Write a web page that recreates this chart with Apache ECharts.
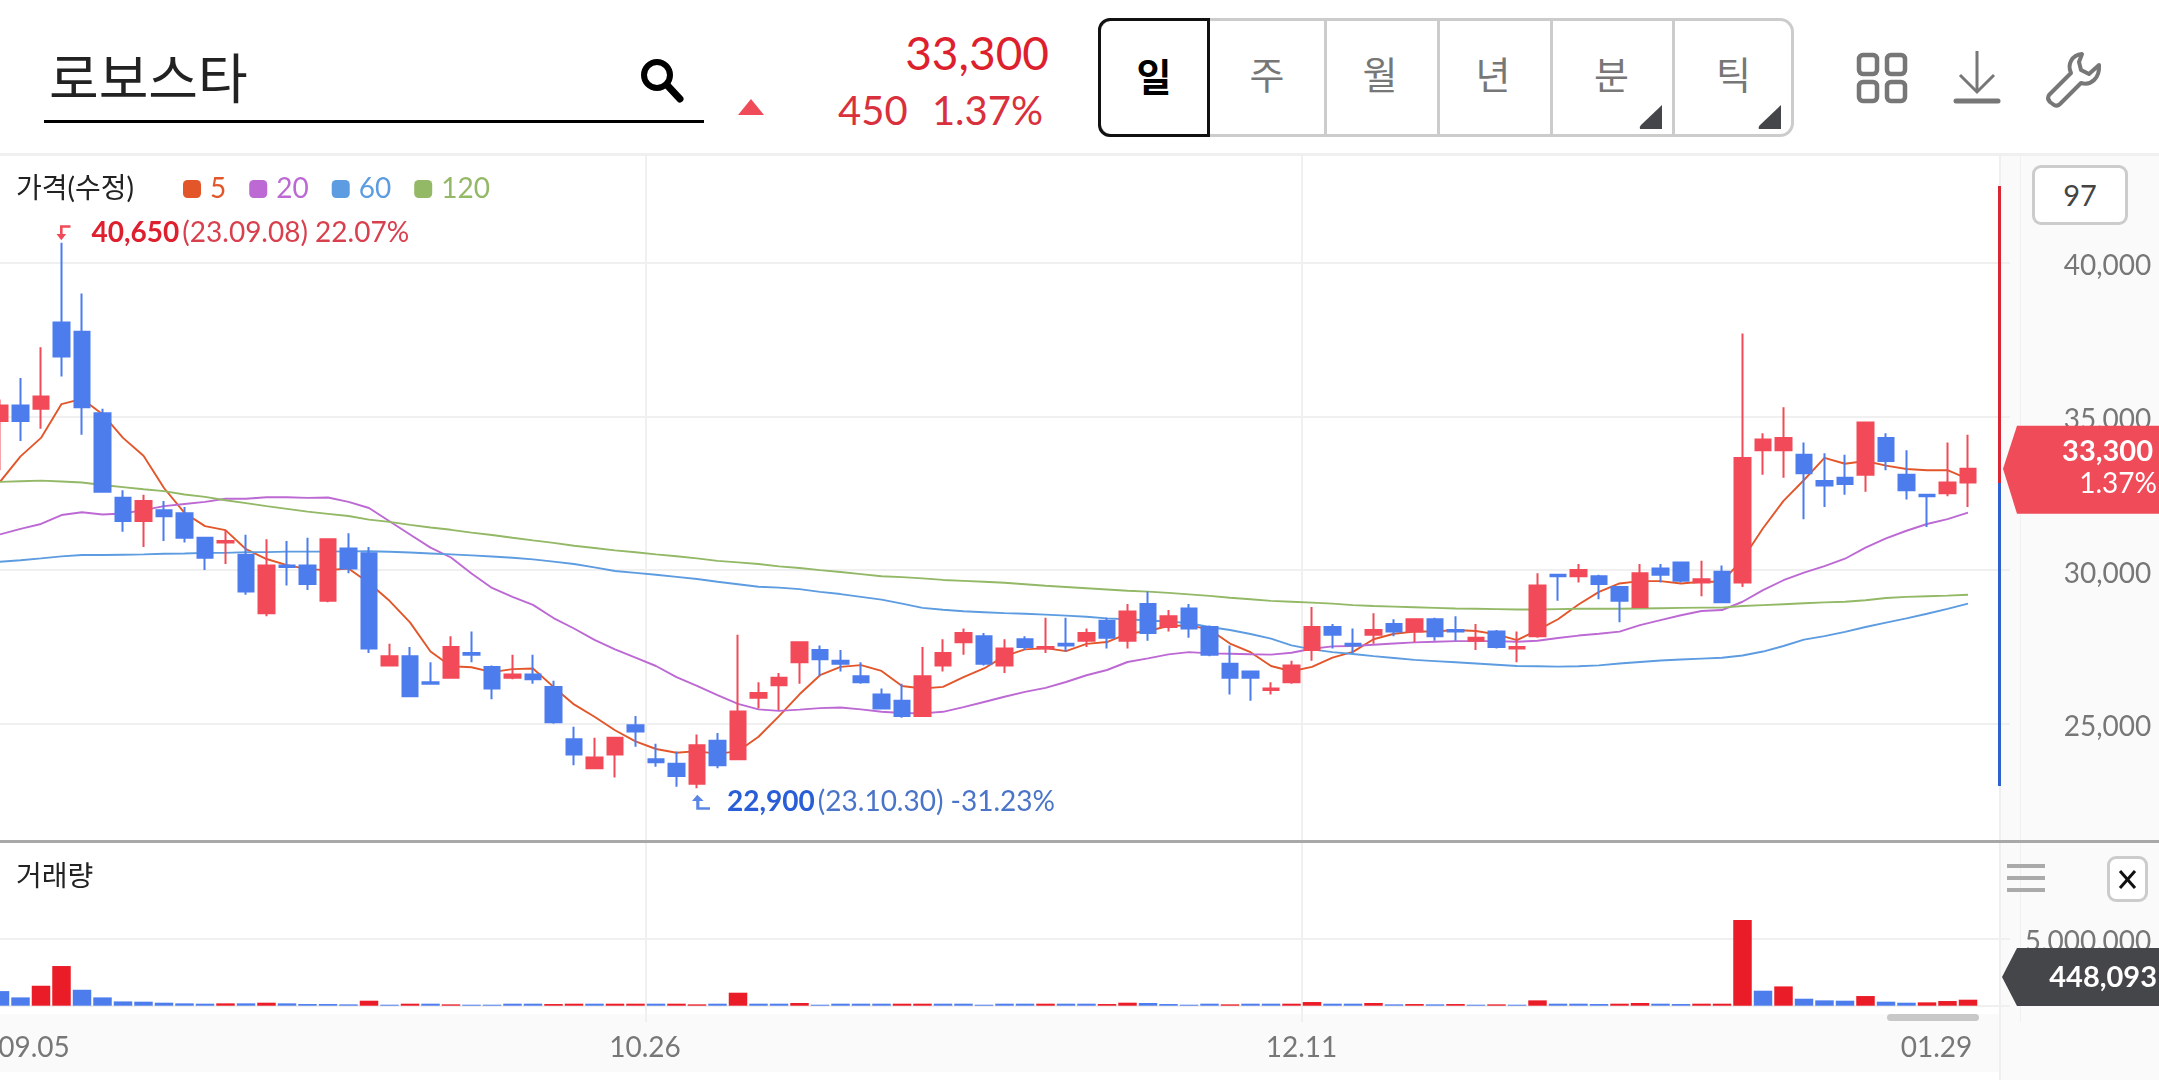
<!DOCTYPE html>
<html lang="ko">
<head>
<meta charset="utf-8">
<title>로보스타</title>
<script src="https://cdn.jsdelivr.net/npm/echarts@6/dist/echarts.min.js"></script>
<style>
    html, body { margin: 0; padding: 0; background: #fff; width: 2159px; height: 1080px; overflow: hidden; }
    body { position: relative; font-family: 'Lato', 'Noto Sans CJK KR', sans-serif; }
    .abs { position: absolute; }
    #chart { position: absolute; left: 0; top: 0; width: 2159px; height: 1080px; z-index: 2; }
    .top { z-index: 3; }
    .tab { position: absolute; top: 18px; height: 119px; line-height: 110px; text-align: center; font-size: 38px; color: #777; font-family: 'Noto Sans CJK KR', sans-serif; box-sizing: border-box; }
    svg { position: absolute; overflow: visible; }
</style>
</head>
<body>
<!-- 배경 패널 -->
<div class="abs" style="left:0;top:153px;width:2159px;height:3px;background:#f0f0f0"></div>
<div class="abs" style="left:2000px;top:156px;width:159px;height:924px;background:#fafafa"></div>
<div class="abs" style="left:1999px;top:156px;width:2px;height:924px;background:#efefef"></div>
<div class="abs" style="left:0;top:1014px;width:1999px;height:58px;background:#fafafa"></div>
<div class="abs" style="left:0;top:840px;width:2159px;height:3px;background:#a8a8a8"></div>

<!-- 종목 검색 -->
<div class="abs" style="left:49px;top:41px;font-size:54px;line-height:70px;color:#222;font-family:'Noto Sans CJK KR',sans-serif">로보스타</div>
<div class="abs" style="left:44px;top:120px;width:660px;height:3px;background:#000"></div>
<svg style="left:638px;top:56px" width="48" height="48" viewBox="0 0 48 48" fill="none" stroke="#000">
    <circle cx="19" cy="19" r="13" stroke-width="6"/>
    <line x1="29" y1="29" x2="42" y2="43" stroke-width="7" stroke-linecap="round"/>
</svg>

<!-- 현재가 -->
<svg style="left:738px;top:99px" width="26" height="16"><polygon points="13,0 26,16 0,16" fill="#f04b59"/></svg>
<div class="abs" style="right:1110px;top:25px;font-size:46px;line-height:56px;color:#dd1f2e">33,300</div>
<div class="abs" style="left:838px;top:86px;font-size:40px;line-height:48px;color:#d9303d">450</div>
<div class="abs" style="right:1116px;top:86px;font-size:40px;line-height:48px;color:#d9303d">1.37%</div>

<!-- 기간 버튼 -->
<div class="abs" style="left:1098px;top:18px;width:696px;height:119px;box-sizing:border-box;border:3px solid #ccc;border-radius:14px"></div>
<div class="tab" style="left:1098px;width:112px;border:3px solid #111;border-radius:12px 0 0 12px;color:#000;font-weight:700;line-height:108px">일</div>
<div class="tab" style="left:1210px;width:114px">주</div>
<div class="tab" style="left:1324px;width:109px;border-left:3px solid #ccc">월</div>
<div class="tab" style="left:1437px;width:109px;border-left:3px solid #ccc">년</div>
<div class="tab" style="left:1550px;width:120px;border-left:3px solid #ccc">분</div>
<div class="tab" style="left:1672px;width:120px;border-left:3px solid #ccc">틱</div>
<svg style="left:1639px;top:105px" width="24" height="25"><path d="M23 0 L23 24 L1 24 Q0 22 2 20 Z" fill="#454649"/></svg>
<svg style="left:1758px;top:105px" width="24" height="25"><path d="M23 0 L23 24 L1 24 Q0 22 2 20 Z" fill="#454649"/></svg>

<!-- 우측 아이콘 -->
<svg style="left:1856px;top:52px" width="52" height="52" fill="none" stroke="#777" stroke-width="4.5">
    <rect x="3" y="3" width="18" height="19" rx="4"/><rect x="31" y="3" width="18" height="19" rx="4"/>
    <rect x="3" y="30" width="18" height="19" rx="4"/><rect x="31" y="30" width="18" height="19" rx="4"/>
</svg>
<svg style="left:1954px;top:51px" width="46" height="54" fill="none" stroke="#777" stroke-width="3">
    <line x1="23" y1="0" x2="23" y2="41"/>
    <polyline points="6,24 23,41 40,24"/>
    <line x1="2" y1="50" x2="44" y2="50" stroke-width="5" stroke-linecap="round"/>
</svg>
<svg style="left:2046px;top:51px" width="56" height="56" viewBox="0 0 56 56" fill="none" stroke="#777" stroke-width="4" stroke-linejoin="round">
    <path d="M36 3 C26 4 21 13 25 22 L3 44 C1 47 2 49 4 51 L8 54 C10 55 12 55 14 53 L35 32 C45 35 54 27 53 14 L43 23 L35 19 L33 11 Z"/>
</svg>

<div id="chart"></div>

<!-- 차트 위 컨트롤 -->
<div class="abs top" style="left:2032px;top:165px;width:96px;height:60px;box-sizing:border-box;border:3px solid #ccc;border-radius:9px;background:#fff;text-align:center;line-height:54px;font-size:29px;color:#444">97</div>
<div class="abs top" style="left:2007px;top:864px;width:38px;height:4px;background:#aaa"></div>
<div class="abs top" style="left:2007px;top:876px;width:38px;height:4px;background:#aaa"></div>
<div class="abs top" style="left:2007px;top:888px;width:38px;height:4px;background:#aaa"></div>
<div class="abs top" style="left:2107px;top:856px;width:41px;height:46px;box-sizing:border-box;border:3px solid #ccc;border-radius:9px;background:#fff"></div>
<svg class="top" style="left:2107px;top:856px;z-index:4" width="41" height="46" stroke="#111" stroke-width="3"><line x1="13" y1="15" x2="28" y2="32"/><line x1="28" y1="15" x2="13" y2="32"/></svg>
<div class="abs top" style="left:1887px;top:1014px;width:92px;height:7px;background:#c8c8c8;border-radius:4px"></div>

<script>
// 데이터
const categories = [
    '09.05','09.06','09.07','09.08','09.11','09.12','09.13','09.14','09.15','09.18',
    '09.19','09.20','09.21','09.22','09.25','09.26','09.27','10.04','10.05','10.06',
    '10.10','10.11','10.12','10.13','10.16','10.17','10.18','10.19','10.20','10.23',
    '10.24','10.25','10.26','10.27','10.30','10.31','11.01','11.02','11.03','11.06',
    '11.07','11.08','11.09','11.10','11.13','11.14','11.15','11.16','11.17','11.20',
    '11.21','11.22','11.23','11.24','11.27','11.28','11.29','11.30','12.01','12.04',
    '12.05','12.06','12.07','12.08','12.11','12.12','12.13','12.14','12.15','12.18',
    '12.19','12.20','12.21','12.22','12.26','12.27','12.28','01.02','01.03','01.04',
    '01.05','01.08','01.09','01.10','01.11','01.12','01.15','01.16','01.17','01.18',
    '01.19','01.22','01.23','01.24','01.25','01.26','01.29'
];
const tickLabels = ['09.05', '10.26', '12.11', '01.29'];
const gridDates = ['10.26', '12.11'];

const opens = [
    34850,35350,35250,38050,37750,35100,32350,31600,31950,31850,
    31050,30900,30500,28600,30150,30150,29000,30700,30550,26900,
    27200,26350,26500,27300,26850,26500,26600,26200,24500,23550,
    24000,24950,23850,23700,23050,24450,23850,25850,26250,27000,
    27400,27050,26550,25950,25750,25250,26900,27650,27850,26900,
    27750,27450,27600,27700,28350,27700,28900,28150,28750,28150,
    26950,26700,26100,26350,27400,28150,27600,27900,28250,28000,
    28400,28050,27700,28000,27450,27850,29850,29800,29800,29450,
    28800,30050,30250,29600,29950,29600,33900,33900,33750,32900,
    33000,33100,34300,33100,32450,32500,32850
];
const closes = [
    35350,34850,35650,36950,35300,32550,31600,32250,31750,31050,
    30400,30950,29300,30150,30100,29550,31000,30050,27450,27200,
    25900,26300,27500,27250,26150,26600,26450,25050,24000,23900,
    24550,24750,23750,23300,24300,23650,25400,26000,26500,27650,
    27100,26950,26350,25500,25250,26550,27300,27950,26950,27450,
    27500,27500,27550,27950,27800,28650,27950,28500,28100,27250,
    26500,26500,26150,26900,28150,27900,27550,28050,28000,28400,
    27850,28000,27800,27500,27500,29500,29800,30000,29550,29000,
    29900,29850,29650,29700,28950,33650,34250,34300,33150,32750,
    32800,34800,33550,32600,32400,32850,33300
];
const highs = [
    35550,36250,37250,40650,39000,35250,32600,32450,32250,32050,
    31050,31300,31150,31000,30950,31050,31000,31200,30750,27600,
    27500,27000,27850,28000,26900,27250,27250,26400,24900,24550,
    24550,25250,24350,24100,24650,24700,27900,26350,26650,27650,
    27550,27400,27000,26150,26300,27500,27750,28100,27950,27750,
    27850,28450,28450,28100,28450,28900,29300,28700,28900,28200,
    27550,26700,26350,27050,28800,28250,28100,28600,28400,28400,
    28450,28500,28250,28050,28000,29900,29850,30200,29850,29450,
    30200,30200,30250,30300,30150,37700,34450,35300,34150,33800,
    33750,34800,34450,33900,32450,34150,34400
];
const lows = [
    33250,34200,34600,36300,34400,32550,31250,30750,30950,30900,
    30000,30200,29200,28500,29500,29350,28950,29900,27300,26900,
    25900,26300,26500,27000,25800,26450,26300,25000,23650,23550,
    23250,24250,23600,22950,22900,23550,23850,25500,25450,26300,
    26550,26700,26300,25500,25200,25250,26700,27250,26900,26650,
    27400,27300,27350,27500,27450,27450,27700,28000,27800,27200,
    25950,25750,25950,26300,27050,27450,27300,27600,27850,27650,
    27700,27700,27400,27450,27000,27800,29000,29600,29050,28300,
    28800,29600,29600,29150,28950,29450,33100,33000,31650,32050,
    32450,32550,33250,32300,31400,32400,32050
];
const ma5 = [
    32870,33700,34300,35400,35570,35070,34300,33720,32670,31860,
    31430,31300,30680,30360,30160,30030,30000,30050,29580,29000,
    28300,27350,26870,26840,26680,26780,26800,26200,25630,25230,
    24790,24430,24180,24060,24110,24020,24110,24580,25250,25960,
    26580,26850,26910,26720,26230,26150,26200,26520,26800,27200,
    27420,27460,27365,27600,27660,27930,28020,28180,28200,28070,
    27610,27330,26880,26710,26850,27150,27340,27750,27930,28000,
    28000,28050,28020,27910,27720,28050,28400,28880,29290,29565,
    29640,29640,29565,29620,29620,30350,31360,32250,32930,33650,
    33460,33550,33400,33290,33250,33250,32970
];
const ma20 = [
    31160,31340,31500,31790,31880,31810,31840,31950,32080,32150,
    32220,32320,32320,32370,32370,32350,32360,32220,32020,31590,
    31160,30730,30410,29890,29420,29130,28870,28440,28100,27730,
    27420,27150,26880,26520,26230,25930,25650,25470,25420,25460,
    25510,25530,25470,25390,25350,25340,25390,25540,25710,25880,
    26040,26170,26360,26580,26750,27010,27130,27260,27330,27290,
    27280,27260,27250,27310,27440,27520,27530,27570,27610,27650,
    27670,27690,27690,27690,27670,27700,27790,27870,27930,28000,
    28210,28370,28530,28670,28700,28970,29350,29670,29920,30130,
    30370,30730,31030,31280,31500,31660,31870
];
const ma60 = [
    30270,30320,30380,30445,30490,30490,30500,30510,30530,30540,
    30560,30560,30585,30585,30600,30600,30600,30610,30615,30595,
    30570,30540,30510,30480,30440,30400,30350,30275,30200,30090,
    29970,29910,29850,29780,29710,29620,29540,29460,29430,29380,
    29290,29220,29130,29040,28910,28770,28710,28660,28630,28600,
    28580,28550,28520,28480,28430,28400,28360,28330,28270,28150,
    28050,27920,27770,27550,27420,27330,27270,27200,27140,27080,
    27040,27000,26960,26920,26880,26870,26860,26870,26900,26960,
    27010,27060,27090,27120,27150,27220,27350,27530,27740,27850,
    27990,28150,28290,28430,28580,28740,28910
];
const ma120 = [
    32870,32890,32910,32880,32850,32770,32700,32630,32570,32460,
    32380,32270,32180,32080,31990,31900,31830,31760,31640,31570,
    31470,31385,31310,31220,31140,31050,30965,30885,30790,30720,
    30640,30580,30510,30450,30380,30300,30250,30200,30120,30070,
    30000,29940,29870,29800,29770,29730,29680,29650,29620,29590,
    29540,29490,29450,29410,29370,29330,29300,29260,29210,29160,
    29100,29050,29000,28970,28940,28910,28860,28830,28810,28790,
    28770,28750,28740,28730,28720,28720,28730,28740,28740,28740,
    28750,28760,28770,28780,28780,28830,28860,28890,28920,28950,
    28970,29020,29090,29130,29150,29170,29200
];
const volumes = [
    1090000,620000,1490000,2960000,1190000,620000,320000,300000,224000,175000,
    150000,175000,175000,224000,175000,125000,125000,100000,373000,75000,
    150000,150000,100000,75000,75000,150000,150000,125000,150000,150000,
    150000,150000,150000,150000,100000,150000,970000,150000,150000,200000,
    75000,150000,150000,150000,150000,150000,150000,150000,75000,150000,
    150000,150000,150000,150000,125000,224000,200000,125000,75000,150000,
    100000,150000,150000,150000,274000,150000,150000,200000,100000,125000,
    100000,125000,75000,100000,75000,398000,150000,150000,125000,150000,
    200000,150000,125000,150000,150000,6390000,1120000,1440000,522000,398000,
    373000,721000,300000,224000,249000,348000,448093
];
const volumeUp = [
    0,0,1,1,0,0,0,0,0,0,
    0,1,0,1,0,0,0,0,1,0,
    1,0,1,0,0,0,0,1,1,0,
    1,1,0,1,1,0,1,0,0,1,
    0,0,0,0,1,1,0,0,0,0,
    0,1,0,0,1,1,0,0,0,0,
    1,0,0,1,1,0,0,1,0,1,
    0,1,0,1,0,1,0,0,0,1,
    1,0,0,1,1,1,0,1,0,0,
    0,1,0,0,1,1,1
];

// 색상
const RED = '#f24a58', BLUE = '#4d7ded', VOL_RED = '#ea1c27';
const FONT = "'Lato', 'Noto Sans CJK KR', sans-serif";
const GRID_LINE = { show: true, lineStyle: { color: '#f0f0f0', width: 2 } };
const Y_LABEL = { fontSize: 28, fontFamily: FONT, color: '#777', padding: [7, 0, 0, 0] };

// 오른쪽 여백까지 격자가 이어지도록 빈 칸 2개를 더함
const xData = categories.concat(['', '']);
const BAND = 20.5;
const gridLeft = -BAND / 2;
const gridWidth = BAND * xData.length;

const candleData = categories.map((d, i) => [opens[i], closes[i], lows[i], highs[i]]);
const volumeData = volumes.map((v, i) => ({ value: v, itemStyle: { color: volumeUp[i] ? VOL_RED : BLUE } }));

function maSeries(name, data, color) {
    return {
        name, type: 'line', data, z: 1, showSymbol: false, silent: true,
        lineStyle: { color, width: 1.9 }, itemStyle: { color }
    };
}

const chart = echarts.init(document.getElementById('chart'), null, { renderer: 'canvas' });
const option = {
    animation: false,
    backgroundColor: 'transparent',
    textStyle: { fontFamily: FONT },
    legend: {
        left: 178, top: 170, itemWidth: 18, itemHeight: 18, itemGap: 23, icon: 'roundRect',
        data: ['5', '20', '60', '120'],
        textStyle: { color: 'inherit', fontSize: 28, fontFamily: FONT, padding: [2, 0, 0, 4] }
    },
    grid: [
        { left: gridLeft, top: 156, width: gridWidth, height: 684, outerBoundsMode: 'none' },
        { left: gridLeft, top: 843, width: gridWidth, height: 179, outerBoundsMode: 'none' }
    ],
    xAxis: [
        {
            type: 'category', gridIndex: 0, data: xData, boundaryGap: true,
            axisLine: { show: false }, axisTick: { show: false }, axisLabel: { show: false },
            splitLine: { ...GRID_LINE, interval: (i, v) => gridDates.includes(v) }
        },
        {
            type: 'category', gridIndex: 1, data: xData, boundaryGap: true,
            axisLine: { show: false }, axisTick: { show: false },
            splitLine: { ...GRID_LINE, interval: (i, v) => gridDates.includes(v) },
            axisLabel: {
                margin: 12, interval: (i, v) => tickLabels.includes(v),
                formatter: v => `{d${tickLabels.indexOf(v)}|${v}}`,
                rich: {
                    d0: { fontSize: 28, fontFamily: FONT, color: '#777', padding: [0, 0, 0, 68] },
                    d1: { fontSize: 28, fontFamily: FONT, color: '#777', padding: [0, 22, 0, 0] },
                    d2: { fontSize: 28, fontFamily: FONT, color: '#777', padding: [0, 21, 0, 0] },
                    d3: { fontSize: 28, fontFamily: FONT, color: '#777', padding: [0, 63, 0, 0] }
                }
            }
        }
    ],
    yAxis: [
        {
            type: 'value', gridIndex: 0, position: 'right', min: 21220, max: 43470, scale: true,
            axisLine: { show: false },
            axisTick: { show: false, customValues: [25000, 30000, 35000, 40000] },
            splitLine: GRID_LINE,
            axisLabel: {
                customValues: [25000, 30000, 35000, 40000],
                margin: 132, align: 'right',
                formatter: v => `{y|${v.toLocaleString('en-US')}}`,
                rich: { y: Y_LABEL }
            }
        },
        {
            type: 'value', gridIndex: 1, position: 'right', min: -1216000, max: 12140000,
            axisLine: { show: false },
            axisTick: { show: false, customValues: [0, 5000000] },
            splitLine: GRID_LINE,
            axisLabel: {
                customValues: [5000000],
                margin: 132, align: 'right',
                formatter: v => `{y|${v.toLocaleString('en-US')}}`,
                rich: { y: Y_LABEL }
            }
        }
    ],
    series: [
        maSeries('5', ma5, '#e2562a'),
        maSeries('20', ma20, '#bd69d4'),
        maSeries('60', ma60, '#5d9ce0'),
        maSeries('120', ma120, '#93b866'),
        {
            type: 'candlestick', data: candleData, z: 3, barWidth: 16, silent: true,
            itemStyle: { color: RED, color0: BLUE, borderColor: RED, borderColor0: BLUE, borderWidth: 2 },
            markPoint: {
                silent: true,
                data: [
                    {
                        coord: ['09.08', 40650], symbol: 'path://M4 0 H16 V3 H7 V10 H11 L5.5 17 L0 10 H4 Z',
                        symbolSize: [14, 15], symbolOffset: [2, -10],
                        itemStyle: { color: '#f04b59' },
                        label: {
                            show: true, position: 'right', distance: 21, formatter: '{b|40,650} {n|(23.09.08) 22.07%}',
                            rich: {
                                b: { fontSize: 28, fontWeight: 'bold', color: '#dd1f2e', fontFamily: FONT },
                                n: { fontSize: 28, color: '#d8404e', fontFamily: FONT }
                            }
                        }
                    },
                    {
                        coord: ['10.30', 22900], symbol: 'path://M8 0 L14 7 H10 V14 H20 V17 H7 V7 H3 Z',
                        symbolSize: [18, 15], symbolOffset: [4, 14],
                        itemStyle: { color: '#5b86e5' },
                        label: {
                            show: true, position: 'right', distance: 17, formatter: '{b|22,900} {n|(23.10.30) -31.23%}',
                            rich: {
                                b: { fontSize: 28, fontWeight: 'bold', color: '#2a5ed6', fontFamily: FONT },
                                n: { fontSize: 28, color: '#4a74c8', fontFamily: FONT }
                            }
                        }
                    }
                ]
            }
        },
        { type: 'bar', xAxisIndex: 1, yAxisIndex: 1, data: volumeData, barWidth: 18.5, silent: true }
    ]
};
chart.setOption(option);

// 현재가 태그와 패널 글자
const lastClose = closes[closes.length - 1];
const cy = chart.convertToPixel({ yAxisIndex: 0 }, lastClose);
chart.setOption({
    graphic: [
        { type: 'rect', z: 1, shape: { x: 2010, y: 156, width: 10, height: 684 }, style: { fill: '#fafafa' } },
        { type: 'rect', z: 1, shape: { x: 2010, y: 843, width: 10, height: 179 }, style: { fill: '#fafafa' } },
        { type: 'text', z: 10, style: { x: 16, y: 189, text: '가격(수정)', fontSize: 28, fontFamily: FONT, fill: '#222', verticalAlign: 'middle' } },
        { type: 'text', z: 10, style: { x: 16, y: 877, text: '거래량', fontSize: 28, fontFamily: FONT, fill: '#222', verticalAlign: 'middle' } },
        { type: 'rect', z: 10, shape: { x: 1998, y: 186, width: 3, height: 297 }, style: { fill: '#d92636' } },
        { type: 'rect', z: 10, shape: { x: 1998, y: 483, width: 3, height: 303 }, style: { fill: '#2f62d0' } },
        {
            type: 'polygon', z: 20,
            shape: { points: [[2003, cy], [2017, cy - 43], [2159, cy - 43], [2159, cy + 45], [2017, cy + 45]] },
            style: { fill: '#f04b59' }
        },
        { type: 'text', z: 21, style: { x: 2153, y: cy - 17, text: '33,300', fontSize: 29, fontWeight: 'bold', fontFamily: FONT, fill: '#fff', align: 'right', verticalAlign: 'middle' } },
        { type: 'text', z: 21, style: { x: 2157, y: cy + 15, text: '1.37%', fontSize: 28, fontFamily: FONT, fill: '#fff', align: 'right', verticalAlign: 'middle' } },
        {
            type: 'polygon', z: 20,
            shape: { points: [[2002, 977], [2017, 948], [2159, 948], [2159, 1006], [2017, 1006]] },
            style: { fill: '#454649' }
        },
        { type: 'text', z: 21, style: { x: 2157, y: 978, text: '448,093', fontSize: 29, fontWeight: 'bold', fontFamily: FONT, fill: '#fff', align: 'right', verticalAlign: 'middle' } }
    ]
});
</script>
</body>
</html>
